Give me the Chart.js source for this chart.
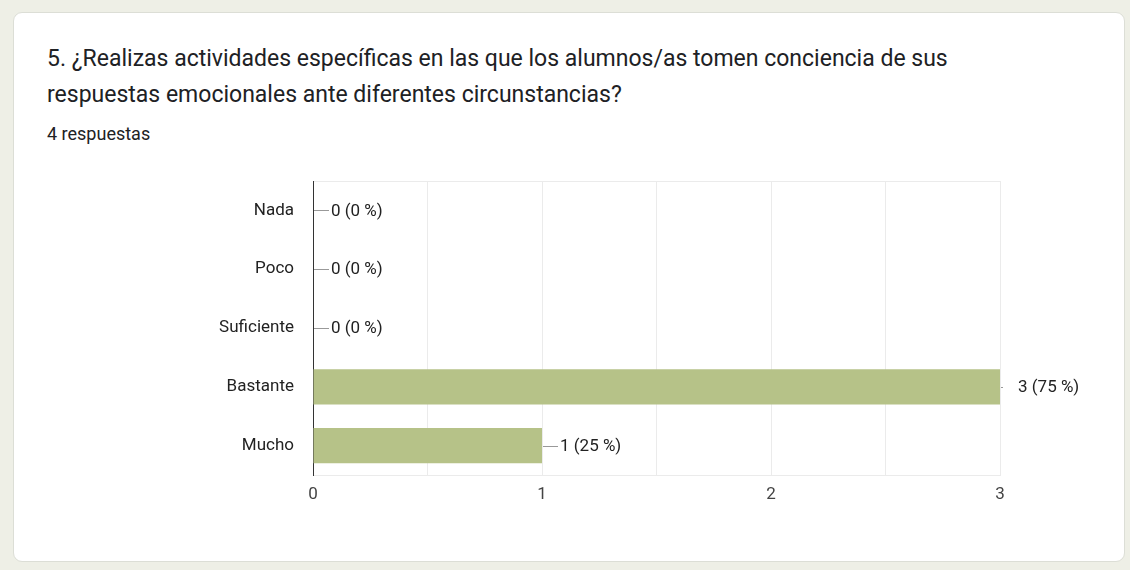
<!DOCTYPE html>
<html>
<head>
<meta charset="utf-8">
<script src="https://cdn.jsdelivr.net/npm/chart.js@4/dist/chart.umd.min.js"></script>
<style>
    body { margin: 0; width: 1130px; height: 570px; background: #eeefe6; overflow: hidden; position: relative; }
    .card { position: absolute; left: 13px; top: 12px; width: 1110px; height: 548px; background: #fff;
            border: 1px solid #dcded6; border-radius: 9px; }
    .title { position: absolute; left: 47px; top: 41px; width: 1050px; font-family: Roboto, "Noto Sans", sans-serif;
             font-size: 23px; line-height: 36px; color: #202124; }
    .count { position: absolute; left: 47px; top: 125px; font-family: Roboto, sans-serif; font-size: 18px;
             line-height: 18px; color: #202124; }
    #wrap { position: absolute; left: 0; top: 160px; width: 1130px; height: 360px; }
</style>
</head>
<body>
<div class="card"></div>
<div class="title">5. ¿Realizas actividades específicas en las que los alumnos/as tomen conciencia de sus<br>respuestas emocionales ante diferentes circunstancias?</div>
<div class="count">4 respuestas</div>
<div id="wrap"><canvas id="chart"></canvas></div>
<script>
// chart data
var categories = ["Nada", "Poco", "Suficiente", "Bastante", "Mucho"];
var counts = [0, 0, 0, 3, 1];
var totalAnswers = 4;
var tickValues = [0, 1, 2, 3];

var go = {};
var labelFont = "Roboto, 'Liberation Sans', Arial, sans-serif";

// draws "n (p %)" next to each bar with a short leader line
var valueLabels = {
    id: "valueLabels",
    afterDatasetsDraw: function (chart)
    {
        var ctx = chart.ctx;
        var meta = chart.getDatasetMeta(0);
        var right = chart.chartArea.right;
        ctx.save();
        ctx.font = "17px " + labelFont;
        ctx.textBaseline = "middle";
        ctx.textAlign = "left";
        for (var i = 0; i < meta.data.length; ++ i)
        {
            var bar = meta.data[i];
            var v = counts[i];
            var text = v + " (" + Math.round(v / totalAnswers * 100) + " %)";
            var atEdge = bar.x >= right - 1;
            ctx.strokeStyle = "#999";
            ctx.lineWidth = 1;
            ctx.beginPath();
            ctx.moveTo(bar.x + 1, Math.round(bar.y) + 0.5);
            ctx.lineTo(bar.x + (atEdge ? 3 : 16), Math.round(bar.y) + 0.5);
            ctx.stroke();
            ctx.fillStyle = "#222";
            ctx.fillText(text, bar.x + 18, bar.y + 1);
        }
        ctx.restore();
    }
};

function main()
{
    var context = document.getElementById("chart").getContext("2d");
    go.chart = new Chart(context, {
        type: "bar",
        data: {
            labels: categories,
            datasets: [{
                data: counts,
                backgroundColor: "#b6c288",
                borderWidth: 0,
                barPercentage: 0.6,
                categoryPercentage: 1
            }]
        },
        options: {
            indexAxis: "y",
            responsive: false,
            animation: false,
            layout: { padding: { left: 0, right: 130, top: 21, bottom: 0 } },
            plugins: { legend: { display: false }, tooltip: { enabled: false } },
            scales: {
                x: {
                    min: 0,
                    max: 3,
                    ticks: {
                        stepSize: 0.5,
                        padding: 10,
                        color: "#444",
                        font: { family: labelFont, size: 17 },
                        callback: function (value)
                        {
                            return tickValues.indexOf(value) >= 0 ? String(value) : "";
                        }
                    },
                    grid: { color: "#ebebeb", drawTicks: false },
                    border: { color: "#ebebeb" },
                    afterFit: function (scale)
                    {
                        scale.height = 45;
                        scale.paddingLeft = 0;
                        scale.paddingRight = 0;
                    }
                },
                y: {
                    ticks: {
                        padding: 19,
                        color: "#222",
                        font: { family: labelFont, size: 17 }
                    },
                    grid: {
                        drawTicks: false,
                        color: function (c) { return c.index === 0 ? "#ebebeb" : "rgba(0,0,0,0)"; }
                    },
                    border: { color: "#333", width: 1 },
                    afterFit: function (scale)
                    {
                        scale.width = 313;
                        scale.paddingTop = 0;
                        scale.paddingBottom = 0;
                    }
                }
            }
        },
        plugins: [valueLabels]
    });
}

document.getElementById("chart").width = 1130;
document.getElementById("chart").height = 360;
main();
</script>
</body>
</html>
